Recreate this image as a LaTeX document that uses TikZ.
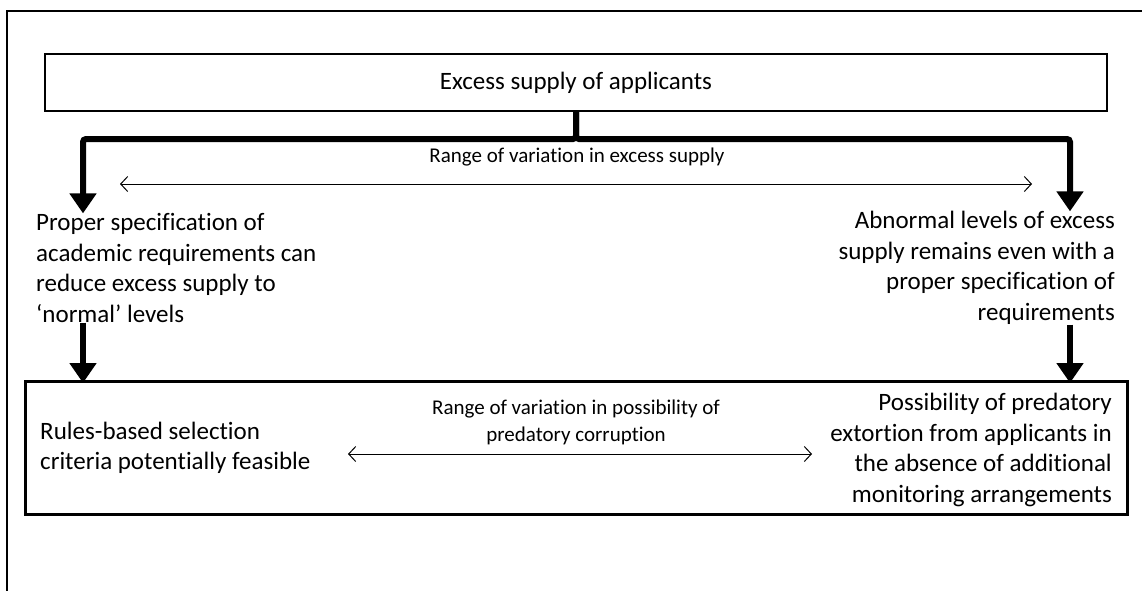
\documentclass[tikz,border=0pt]{standalone}
\usepackage{fontspec}
\setmainfont{Carlito}[Ligatures=CommonOff]
\usetikzlibrary{arrows.meta,positioning}

\begin{document}
\begin{tikzpicture}[x=1pt, y=-1pt,
    main text/.style={font=\fontsize{25}{30.5}\selectfont, inner sep=0pt},
    small text/.style={font=\fontsize{21}{27}\selectfont, inner sep=0pt, align=center},
    flow/.style={line width=6pt, rounded corners=3pt, -{Triangle[width=26pt, length=20pt]}},
    span arrow/.style={line width=1pt, {Straight Barb[length=7pt, width=15pt]}-{Straight Barb[length=7pt, width=15pt]}}]
    \useasboundingbox (0,0) rectangle (1142,590);
    \draw[line width=2.5pt] (7,600) -- (7,11) -- (1150,11);

    \node[draw, line width=1.5pt, minimum width=1062pt, minimum height=57pt, main text] (supply) at (576,82.5) {Excess supply of applicants};

    \coordinate (jl) at (83,139);
    \coordinate (jr) at (1070,139);

    \node[main text, align=left, anchor=west] (normal) at (36,268) {Proper specification of\\academic requirements can\\reduce excess supply to\\‘normal’ levels};
    \node[main text, align=right, anchor=east] (abnormal) at (1115,268) {Abnormal levels of excess\\supply remains even with a\\proper specification of\\requirements};

    \node[draw, line width=3pt, minimum width=1102pt, minimum height=133pt] (outcome) at (576.5,448) {};
    \node[main text, align=left, anchor=west] (rules) at (40,448) {Rules-based selection\\criteria potentially feasible};
    \node[main text, align=right, anchor=east] (extortion) at (1112,450) {Possibility of predatory\\extortion from applicants in\\the absence of additional\\monitoring arrangements};
    \node[small text] (corruption) at (576,422) {Range of variation in possibility of\\predatory corruption};
    \node[small text] (variation) at (577,157) {Range of variation in excess supply};

    \draw[flow] (supply.south) |- (jl) -- (jl |- normal.north);
    \draw[flow] (supply.south) |- (jr) -- (jr |- abnormal.north);
    \draw[flow] (jl |- normal.south) -- ([yshift=-3pt]jl |- outcome.north);
    \draw[flow] (jr |- abnormal.south) -- ([yshift=-3pt]jr |- outcome.north);

    \coordinate (al) at (120,184);
    \coordinate (ar) at (1032,184);
    \draw[span arrow] (al) -- (ar);
    \coordinate (bl) at (348,454);
    \coordinate (br) at (812,454);
    \draw[span arrow] (bl) -- (br);
\end{tikzpicture}
\end{document}
